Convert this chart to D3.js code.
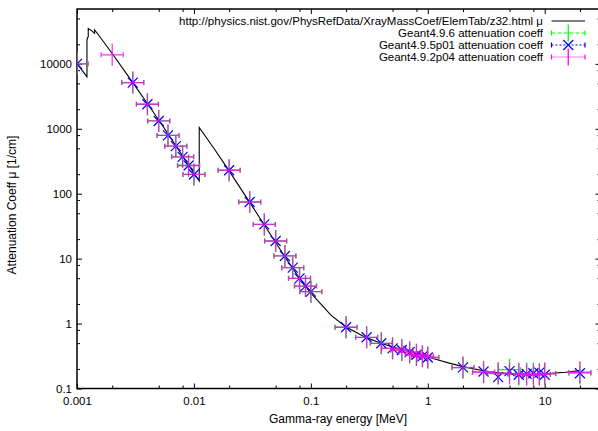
<!DOCTYPE html>
<html><head><meta charset="utf-8">
<script src="https://cdn.jsdelivr.net/npm/d3@7"></script>
<style>
html,body{margin:0;padding:0;background:#fff;}
svg{display:block;font-family:"Liberation Sans",Arial,sans-serif;}
</style></head>
<body><svg id="c" width="598" height="431"></svg>
<script>
// NIST reference curve for Ge (Z=32), mu [1/cm]
const nistE  = [0.001,0.001103,0.0012167,0.0012167,0.0012478,0.0012478,0.00133,0.0014143,0.0014143,0.0015,0.002,0.003,0.004,0.005,0.006,0.008,0.01,0.0111031,0.0111031,0.015,0.02,0.03,0.04,0.05,0.06,0.08,0.1,0.15,0.2,0.3,0.4,0.5,0.6,0.8,1,1.25,1.5,2,3,4,5,6,8,10,15,20];
const nistMu = [10077,7995,6334,23360,26600,35000,32500,29500,33500,29143,14430,5140,2456,1364,835.7,380.7,208,157.3,1046,483.9,224.7,73.7,33.04,17.70,10.66,4.99,2.954,1.326,0.884,0.602,0.4965,0.4371,0.3967,0.3421,0.3048,0.2715,0.2479,0.2175,0.1876,0.1743,0.1681,0.1655,0.1654,0.1680,0.1781,0.1883];

// Geant4 attenuation coefficients
const g4E = [0.001,0.003,0.004,0.005,0.006,0.007,0.008,0.009,0.01,0.02,0.03,0.04,0.05,0.06,0.07,0.08,0.09,0.1,0.2,0.3,0.4,0.5,0.6,0.7,0.8,0.9,1,2,3,4,5,6,7,8,9,10,20];
const g496Mu   = [10000,5150,2390,1320,790,540,370,272,198,230,74.5,33.7,18.7,11.0,7.27,4.98,3.78,3.1,0.877,0.615,0.497,0.416,0.392,0.363,0.331,0.313,0.300,0.210,0.180,0.170,0.195,0.165,0.170,0.170,0.165,0.168,0.172];
const g495Mu   = [10000,5150,2390,1320,790,540,370,272,198,230,74.5,33.7,18.7,11.0,7.27,4.98,3.78,3.1,0.877,0.615,0.497,0.416,0.392,0.363,0.331,0.313,0.300,0.212,0.183,0.150,0.185,0.163,0.168,0.172,0.176,0.163,0.172];
const g492E  = [0.001,0.002,0.003,0.004,0.005,0.006,0.007,0.008,0.009,0.01,0.02,0.03,0.04,0.05,0.06,0.07,0.08,0.09,0.1,0.2,0.3,0.4,0.5,0.6,0.7,0.8,0.9,1,2,3,4,5,6,7,8,9,10,20];
const g492Mu = [10000,13800,5150,2390,1320,790,540,370,272,198,230,74.5,33.7,18.7,11.0,7.27,4.98,3.78,3.1,0.877,0.615,0.497,0.416,0.392,0.363,0.331,0.313,0.300,0.210,0.178,0.172,0.170,0.170,0.163,0.160,0.165,0.170,0.178];

const xMajor = [0.001,0.01,0.1,1,10];
const xMajorLabels = ["0.001","0.01","0.1","1","10"];
const yMajor = [0.1,1,10,100,1000,10000];
const yMajorLabels = ["0.1","1","10","100","1000","10000"];
const minorMult = [2,5,8];

const legendLabels = ["http://physics.nist.gov/PhysRefData/XrayMassCoef/ElemTab/z32.html \u03bc",
  "Geant4.9.6 attenuation coeff","Geant4.9.5p01 attenuation coeff","Geant4.9.2p04 attenuation coeff"];

const L=77, R=600.5, T=9, B=388.5;
const svg = d3.select("#c");
const x = d3.scaleLog().domain([0.001,30]).range([L,R]);
const y = d3.scaleLog().domain([0.1,70000]).range([B,T]);

const xMinor=[], yMinor=[];
for (let d=-3; d<=1; d++) minorMult.forEach(m=>{const v=m*Math.pow(10,d); if(v<30) xMinor.push(v);});
for (let d=-1; d<=4; d++) minorMult.forEach(m=>{const v=m*Math.pow(10,d); if(v<70000) yMinor.push(v);});

const fmtX = d=>xMajorLabels[xMajor.indexOf(d)];
const fmtY = d=>yMajorLabels[yMajor.indexOf(d)];

function styleAxis(g){ g.select(".domain").remove(); g.selectAll("line").attr("stroke","#000").attr("stroke-width",1);
  g.selectAll("text").attr("font-size","11.5px").attr("fill","#000").attr("font-family","'Liberation Sans',Arial,sans-serif"); }

svg.append("g").attr("transform",`translate(0,${B})`).call(d3.axisBottom(x).tickValues(xMajor).tickFormat(fmtX).tickSize(-5).tickPadding(8)).call(styleAxis);
svg.append("g").attr("transform",`translate(0,${B})`).call(d3.axisBottom(x).tickValues(xMinor).tickFormat("").tickSize(-3)).call(styleAxis);
svg.append("g").attr("transform",`translate(0,${T})`).call(d3.axisTop(x).tickValues(xMajor).tickFormat("").tickSize(-5)).call(styleAxis);
svg.append("g").attr("transform",`translate(0,${T})`).call(d3.axisTop(x).tickValues(xMinor).tickFormat("").tickSize(-3)).call(styleAxis);
svg.append("g").attr("transform",`translate(${L},0)`).call(d3.axisLeft(y).tickValues(yMajor).tickFormat(fmtY).tickSize(-5).tickPadding(5)).call(styleAxis);
svg.append("g").attr("transform",`translate(${L},0)`).call(d3.axisLeft(y).tickValues(yMinor).tickFormat("").tickSize(-3)).call(styleAxis);
svg.append("g").attr("transform",`translate(${R},0)`).call(d3.axisRight(y).tickValues(yMajor).tickFormat("").tickSize(-5)).call(styleAxis);
svg.append("g").attr("transform",`translate(${R},0)`).call(d3.axisRight(y).tickValues(yMinor).tickFormat("").tickSize(-3)).call(styleAxis);

svg.append("rect").attr("x",L).attr("y",T).attr("width",R-L).attr("height",B-T)
  .attr("fill","none").attr("stroke","#000").attr("stroke-width",1.5);

// axis titles
svg.append("text").attr("x",338).attr("y",423).attr("text-anchor","middle").attr("font-size","12px").text("Gamma-ray energy [MeV]");
svg.append("text").attr("transform","translate(16,205) rotate(-90)").attr("text-anchor","middle").attr("font-size","12px").text("Attenuation Coeff \u03bc [1/cm]");

svg.append("clipPath").attr("id","clip").append("rect").attr("x",L).attr("y",T).attr("width",R-L).attr("height",B-T);
const plot = svg.append("g").attr("clip-path","url(#clip)");

// NIST line
plot.append("path").datum(nistE.map((e,i)=>[e,nistMu[i]]))
  .attr("d",d3.line().x(d=>x(d[0])).y(d=>y(d[1])))
  .attr("fill","none").attr("stroke","#000").attr("stroke-width",1.1);

const PS=11, CAP=2.5, XS=5;
function plusPts(g,E,M,color,op){
  E.forEach((e,i)=>{
    const cx=x(e), cy=y(M[i]);
    const p=`M${cx-PS},${cy}H${cx+PS}M${cx},${cy-PS}V${cy+PS}M${cx-PS},${cy-CAP}V${cy+CAP}M${cx+PS},${cy-CAP}V${cy+CAP}`;
    g.append("path").attr("d",p).attr("stroke",color).attr("stroke-width",1.3).attr("fill","none").attr("stroke-opacity",op);
  });
}
function xPts(g,E,M,color){
  E.forEach((e,i)=>{
    const cx=x(e), cy=y(M[i]);
    g.append("path").attr("d",`M${cx-XS},${cy-XS}L${cx+XS},${cy+XS}M${cx-XS},${cy+XS}L${cx+XS},${cy-XS}`)
      .attr("stroke",color).attr("stroke-width",1.2).attr("fill","none");
  });
}
plusPts(plot,g4E,g496Mu,"#00ff00",1);
xPts(plot,g4E,g495Mu,"#0000ff");
plusPts(plot,g492E,g492Mu,"#ff00ff",0.8);

// legend
const lg = svg.append("g").attr("font-size","11.5px");
const ly=[21,33,45,57], lx1=551.5, lx2=585, tx=543;
legendLabels.forEach((t,i)=>lg.append("text").attr("x",tx).attr("y",ly[i]).attr("dy","0.35em").attr("text-anchor","end").text(t));
lg.append("line").attr("x1",lx1).attr("x2",lx2).attr("y1",ly[0]).attr("y2",ly[0]).attr("stroke","#000").attr("stroke-width",1.1);
const mid=(lx1+lx2)/2;
function legErr(yy,color,dash,vert){
  lg.append("path").attr("d",`M${lx1},${yy}H${lx2}`).attr("stroke",color).attr("stroke-dasharray",dash).attr("stroke-width",1.2);
  lg.append("path").attr("d",`M${lx1},${yy-CAP}V${yy+CAP}M${lx2},${yy-CAP}V${yy+CAP}`).attr("stroke",color).attr("stroke-width",1.2);
  if(vert) lg.append("path").attr("d",`M${mid},${yy-8.5}V${yy+8.5}`).attr("stroke",color).attr("stroke-width",1.3);
  else lg.append("path").attr("d",`M${mid-XS},${yy-XS}L${mid+XS},${yy+XS}M${mid-XS},${yy+XS}L${mid+XS},${yy-XS}`).attr("stroke",color).attr("stroke-width",1.2);
}
legErr(ly[1],"#00ff00","4,2",true);
legErr(ly[2],"#0000ff","2,2",false);
legErr(ly[3],"#ff00ff","1,1",true);
</script></body></html>
